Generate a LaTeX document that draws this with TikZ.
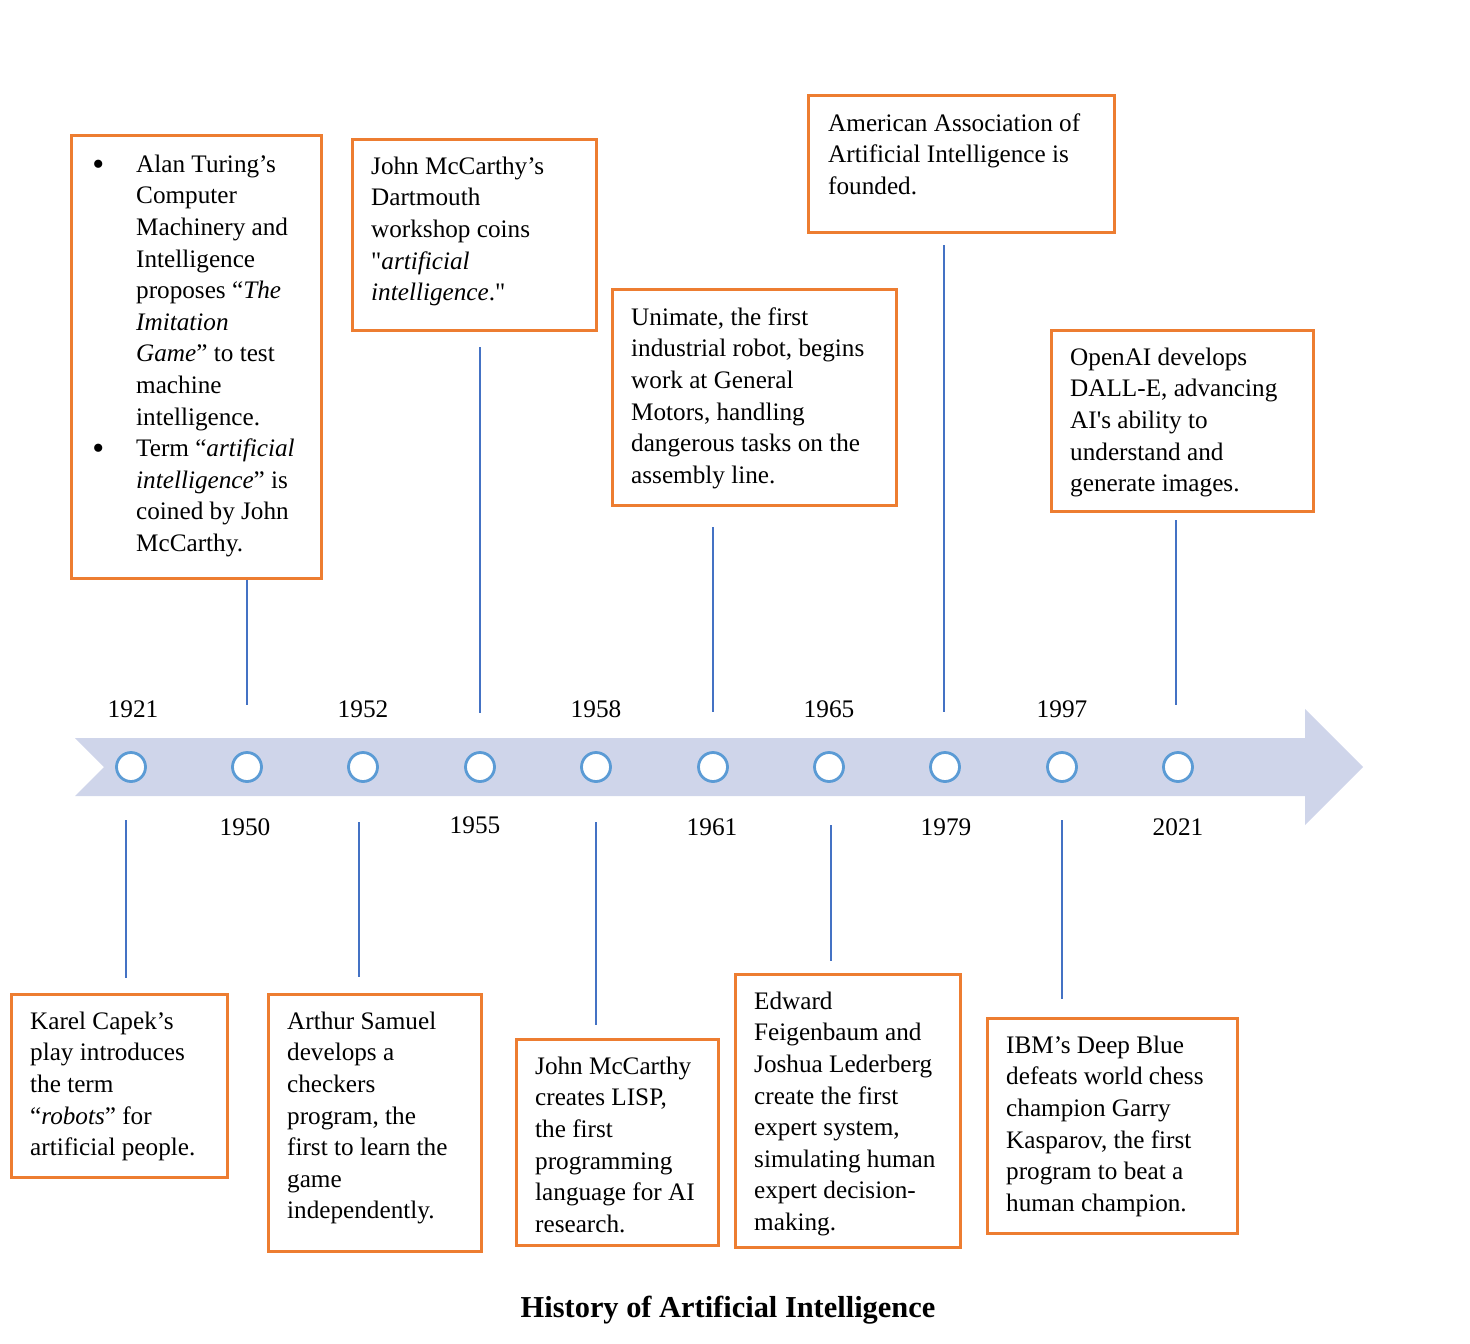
\documentclass[tikz,border=0pt]{standalone}
\usepackage{fontspec}
\setmainfont{Liberation Serif}
\definecolor{boxorange}{HTML}{ED7D31}
\definecolor{connblue}{HTML}{4472C4}
\definecolor{dotblue}{HTML}{5B9BD5}
\definecolor{arrowfill}{HTML}{CFD5EA}
\newcommand{\fl}{\rule{0pt}{24pt}}
\newcommand{\bigbul}{\llap{\raisebox{-3pt}{\fontsize{34}{30}\selectfont\textbullet}\hspace{32pt}}}
\begin{document}
\begin{tikzpicture}[x=1pt,y=-1pt,
  frame/.style={draw=boxorange,line width=2.6pt,rectangle,inner sep=0pt,anchor=north west},
  txt/.style={anchor=north west,align=left,inner sep=0pt,font=\fontsize{25.2}{31.6}\selectfont},
  year/.style={anchor=base,inner sep=0pt,font=\fontsize{25.3}{30}\selectfont},
  dot/.style={circle,draw=dotblue,fill=white,line width=2.8pt,minimum size=29pt,inner sep=0pt},
  conn/.style={draw=connblue,line width=1.1pt}]
\useasboundingbox (0,0) rectangle (1470,1344);
% timeline arrow
\fill[arrowfill] (75,738) -- (1305,738) -- (1305,709) -- (1363,767) -- (1305,825) -- (1305,796) -- (75,796) -- (104,767) -- cycle;
% dots
\foreach \n/\x in {1921/131,1950/247,1952/363,1955/480,1958/596,1961/713,1965/829,1979/945,1997/1062,2021/1178}
  \node[dot] (c\n) at (\x,767) {};
% year labels
\node[year] (y1921) at (133,717) {1921};
\node[year] (y1952) at (363,717) {1952};
\node[year] (y1958) at (596,717) {1958};
\node[year] (y1965) at (829,717) {1965};
\node[year] (y1997) at (1062,717) {1997};
\node[year] (y1950) at (245,835) {1950};
\node[year] (y1955) at (475,833) {1955};
\node[year] (y1961) at (712,835) {1961};
\node[year] (y1979) at (946,835) {1979};
\node[year] (y2021) at (1178,835) {2021};
% frames
\node[frame,minimum width=250pt,minimum height=443pt] (fturing) at (70,134) {};
\node[frame,minimum width=244pt,minimum height=191pt] (fdart) at (351,138) {};
\node[frame,minimum width=284pt,minimum height=216pt] (funi) at (611,288) {};
\node[frame,minimum width=306pt,minimum height=137pt] (faaai) at (807,94) {};
\node[frame,minimum width=262pt,minimum height=181pt] (fopen) at (1050,329) {};
\node[frame,minimum width=216pt,minimum height=183pt] (fcapek) at (10,993) {};
\node[frame,minimum width=213pt,minimum height=257pt] (fsam) at (267,993) {};
\node[frame,minimum width=202pt,minimum height=206pt] (flisp) at (515,1038) {};
\node[frame,minimum width=225pt,minimum height=273pt] (ffeig) at (734,973) {};
\node[frame,minimum width=250pt,minimum height=215pt] (fibm) at (986,1017) {};
% texts (first baseline = y + 24)
\node[txt] (tturing) at (136,148) {\fl\bigbul Alan Turing’s\\Computer\\Machinery and\\Intelligence\\proposes “\textit{The}\\\textit{Imitation}\\\textit{Game}” to test\\machine\\intelligence.\\\bigbul Term “\textit{artificial}\\\textit{intelligence}” is\\coined by John\\McCarthy.};
\node[txt] (tdart) at (371,150) {\fl John McCarthy’s\\Dartmouth\\workshop coins\\\textquotedbl\textit{artificial}\\\textit{intelligence}.\textquotedbl};
\node[txt] (tuni) at (631,301) {\fl Unimate, the first\\industrial robot, begins\\work at General\\Motors, handling\\dangerous tasks on the\\assembly line.};
\node[txt] (taaai) at (828,107) {\fl American Association of\\Artificial Intelligence is\\founded.};
\node[txt] (topen) at (1070,341) {\fl OpenAI develops\\DALL-E, advancing\\AI\textquotesingle s ability to\\understand and\\generate images.};
\node[txt] (tcapek) at (30,1005) {\fl Karel Capek’s\\play introduces\\the term\\“\textit{robots}” for\\artificial people.};
\node[txt] (tsam) at (287,1005) {\fl Arthur Samuel\\develops a\\checkers\\program, the\\first to learn the\\game\\independently.};
\node[txt] (tlisp) at (535,1050) {\fl John McCarthy\\creates LISP,\\the first\\programming\\language for AI\\research.};
\node[txt] (tfeig) at (754,985) {\fl Edward\\Feigenbaum and\\Joshua Lederberg\\create the first\\expert system,\\simulating human\\expert decision-\\making.};
\node[txt] (tibm) at (1006,1029) {\fl IBM’s Deep Blue\\defeats world chess\\champion Garry\\Kasparov, the first\\program to beat a\\human champion.};
% connectors
\coordinate (e1950) at (247,705);
\coordinate (s1955) at (480,347); \coordinate (e1955) at (480,713);
\coordinate (s1961) at (713,527); \coordinate (e1961) at (713,712);
\coordinate (s1979) at (944,245); \coordinate (e1979) at (944,712);
\coordinate (s2021) at (1176,520); \coordinate (e2021) at (1176,705);
\coordinate (s1921) at (126,820); \coordinate (e1921) at (126,978);
\coordinate (s1952) at (359,822); \coordinate (e1952) at (359,977);
\coordinate (s1958) at (596,822); \coordinate (e1958) at (596,1025);
\coordinate (s1965) at (831,825); \coordinate (e1965) at (831,961);
\coordinate (s1997) at (1062,820); \coordinate (e1997) at (1062,999);
\draw[conn] (fturing.south -| e1950) -- (e1950);
\draw[conn] (s1955) -- (e1955);
\draw[conn] (s1961) -- (e1961);
\draw[conn] (s1979) -- (e1979);
\draw[conn] (s2021) -- (e2021);
\draw[conn] (s1921) -- (e1921);
\draw[conn] (s1952) -- (e1952);
\draw[conn] (s1958) -- (e1958);
\draw[conn] (s1965) -- (e1965);
\draw[conn] (s1997) -- (e1997);
% title
\node[anchor=base,inner sep=0pt,font=\fontsize{30.4}{36}\selectfont\bfseries] (title) at (728,1317) {History of Artificial Intelligence};
\end{tikzpicture}
\end{document}
